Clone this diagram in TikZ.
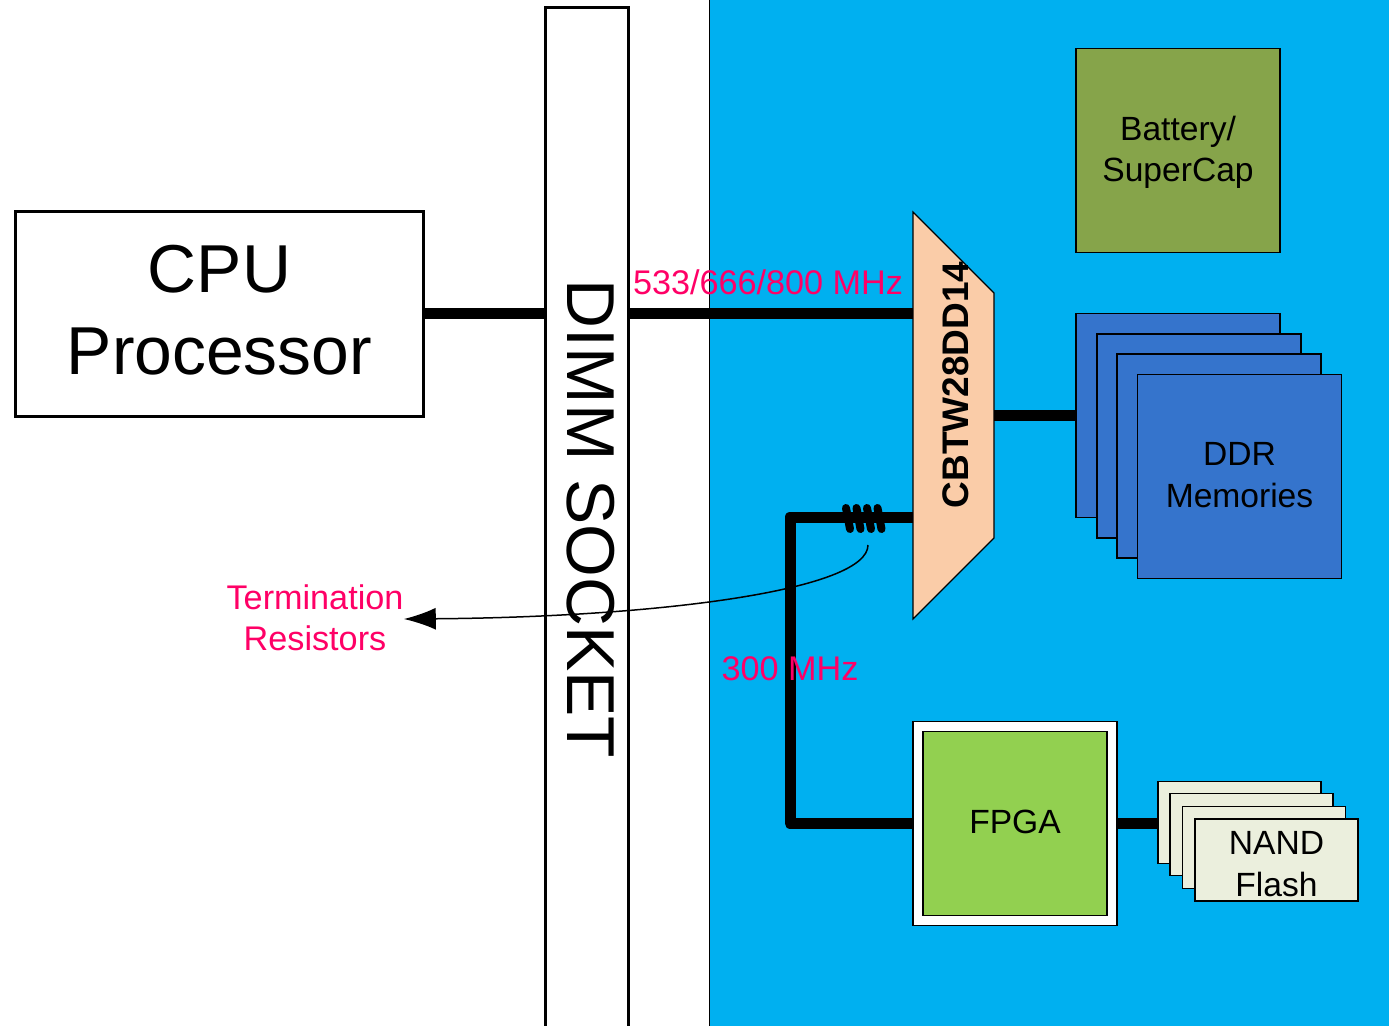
\documentclass[tikz,border=0pt]{standalone}
\usepackage{fontspec}
\setmainfont{Liberation Sans}
\definecolor{dimmpanel}{RGB}{0,176,240}
\definecolor{dimmpink}{RGB}{255,0,102}
\definecolor{dimmolive}{RGB}{134,164,74}
\definecolor{dimmpeach}{RGB}{250,204,168}
\definecolor{dimmblue}{RGB}{53,116,204}
\definecolor{dimmgreen}{RGB}{146,208,80}
\definecolor{dimmcream}{RGB}{235,239,221}
\usetikzlibrary{arrows.meta}

\begin{document}
\begin{tikzpicture}[x=0.5pt,y=-0.5pt,
  smalltext/.style={inner sep=0pt,align=center,font=\fontsize{16.8}{20.6}\selectfont},
  bigtext/.style={inner sep=0pt,align=center,font=\fontsize{33.9}{41}\selectfont},
  blockbox/.style={draw,line width=0.6pt,inner sep=0pt,minimum width=102pt,minimum height=102pt},
  nandbox/.style={draw,line width=0.6pt,fill=dimmcream,inner sep=0pt,minimum width=81.5pt,minimum height=41pt},
  bigbox/.style={draw,line width=1.5pt,inner sep=0pt},
  pinklabel/.style={inner sep=0pt,align=center,text=dimmpink,font=\fontsize{17.1}{20.6}\selectfont},
  busline/.style={line width=5.5pt,line join=round},
  coilloop/.style={line width=4pt,line cap=round}
]
  \useasboundingbox (0,0) rectangle (1389,1025);
  \clip (0,0) rectangle (1389,1025);
  % Panel and socket
  \node[draw,line width=0.5pt,fill=dimmpanel,inner sep=0pt,minimum width=345pt,minimum height=520pt] (panel) at (1054,513) {};
  \node[bigbox,fill=white,rotate=-90,minimum width=511pt,minimum height=41.5pt] (dimm) at (586.5,518.5) {};
  \node[bigtext,rotate=-90] (dimmlabel) at (591,519) {DIMM SOCKET};
  \node[bigbox,fill=white,minimum width=204pt,minimum height=102.5pt] (cpu) at (219.5,313.5) {};
  \node[bigtext] (cpulabel) at (219.5,310.5) {CPU\\Processor};
  % Mux
  \draw[line width=0.6pt,fill=dimmpeach] (913,212) -- (994,293) -- (994,538) -- (913,619) -- cycle;
  \node[inner sep=0pt,rotate=90,font=\fontsize{18.5}{20.5}\selectfont\bfseries] (mux) at (956,385) {CBTW28DD14};
  \coordinate (muxhost) at (913,313.5);
  \coordinate (muxddr) at (994,415);
  \coordinate (muxfpga) at (913,517);
  \coordinate (busbend) at (790,517);
  % Blocks
  \node[blockbox,fill=dimmolive] (battery) at (1178,150.5) {};
  \node[smalltext] (batterylabel) at (1178,152) {Battery/\\SuperCap};
  \node[blockbox,fill=dimmblue] (ddra) at (1178,415.5) {};
  \node[blockbox,fill=dimmblue] (ddrb) at (1199,436) {};
  \node[blockbox,fill=dimmblue] (ddrc) at (1219,456) {};
  \node[blockbox,fill=dimmblue] (ddrd) at (1239.5,476.5) {};
  \node[smalltext] (ddrlabel) at (1239.5,475) {DDR\\Memories};
  \node[blockbox,fill=white] (fpgaframe) at (1015,823.5) {};
  \node[blockbox,fill=dimmgreen,minimum width=92pt,minimum height=92pt] (fpga) at (1015,823.5) {};
  \node[smalltext] (fpgalabel) at (1015,821.5) {FPGA};
  \node[nandbox] (nanda) at (1239.5,822.5) {};
  \node[nandbox] (nandb) at (1251.5,834.5) {};
  \node[nandbox] (nandc) at (1264,847.5) {};
  \node[nandbox] (nandd) at (1276.5,860) {};
  \node[smalltext] (nandlabel) at (1276.5,864) {NAND\\Flash};
  % Buses
  \draw[busline] (cpu.east) -- (dimm.south |- cpu.east);
  \draw[busline] (dimm.north |- cpu.east) -- (muxhost);
  \draw[busline] (muxddr) -- (ddra.west |- muxddr);
  \draw[busline] (muxfpga) -- (busbend) -- (busbend |- fpgaframe.west) -- (fpgaframe.west);
  \draw[busline] (fpgaframe.east) -- (nanda.west |- fpgaframe.east);
  % Termination coil
  \foreach \x in {846,856.5,867,877.5}
    \draw[coilloop] (\x,508) -- (\x+4,529);
  \coordinate (coilend) at (868,545);
  % Labels
  \node[pinklabel] (hostfreq) at (768,282) {533/666/800 MHz};
  \node[pinklabel] (fpgafreq) at (790,669) {300 MHz};
  \node[pinklabel] (term) at (315,618) {Termination\\Resistors};
  \draw[line width=0.75pt,-{Latex[length=16pt,width=11pt]}] (coilend) .. controls (868,590) and (660,617) .. (term.east |- 0,619);
\end{tikzpicture}
\end{document}
